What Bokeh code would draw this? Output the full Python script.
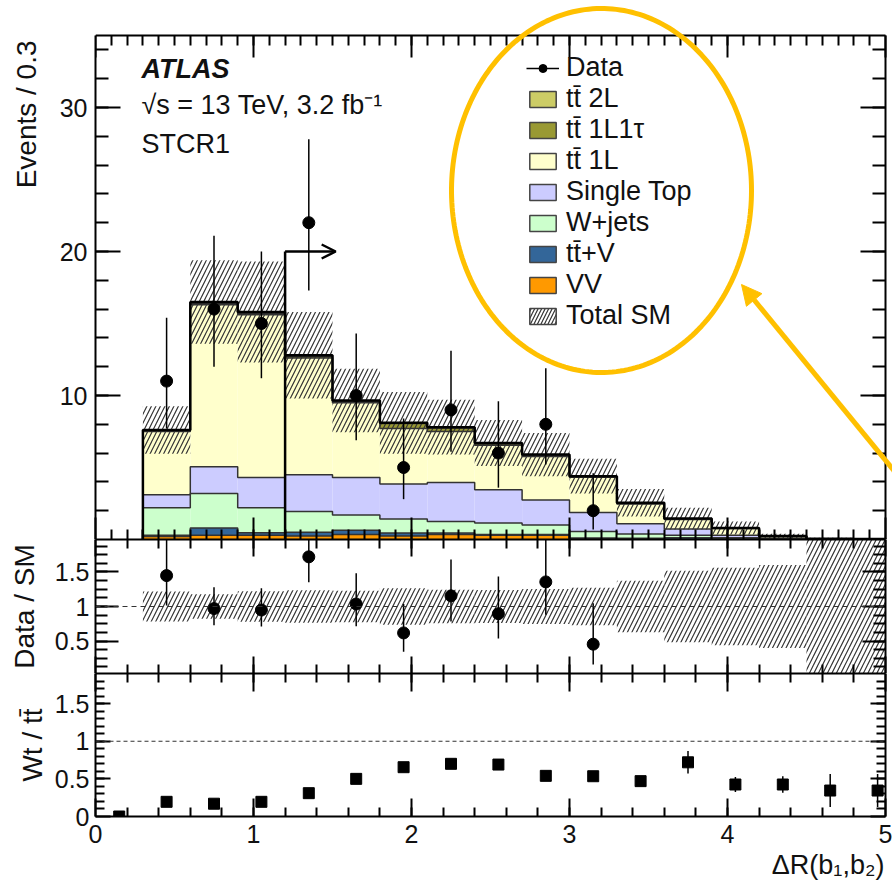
import numpy as np
from bokeh.plotting import figure
from bokeh.models import (Range1d, FixedTicker, LinearAxis, Label, Legend, LegendItem,
                          Arrow, OpenHead, NormalHead, PolyAnnotation, Span)
from bokeh.layouts import column
from bokeh.embed import file_html
from bokeh.resources import INLINE

# ---------------- data ----------------
bin_lo = [0.3, 0.6, 0.9, 1.2, 1.5, 1.8, 2.1, 2.4, 2.7, 3.0, 3.3, 3.6, 3.9, 4.2, 4.5, 4.8]
bin_hi = [0.6, 0.9, 1.2, 1.5, 1.8, 2.1, 2.4, 2.7, 3.0, 3.3, 3.6, 3.9, 4.2, 4.5, 4.8, 5.1]

vv         = [0.20, 0.30, 0.30, 0.25, 0.35, 0.25, 0.35, 0.30, 0.30, 0.05, 0.03, 0.02, 0.01, 0.00, 0.00, 0.00]
ttv        = [0.10, 0.50, 0.17, 0.25, 0.30, 0.20, 0.10, 0.05, 0.05, 0.05, 0.05, 0.10, 0.02, 0.00, 0.00, 0.00]
wjets      = [1.90, 2.40, 1.73, 1.45, 1.05, 0.98, 0.80, 0.80, 0.65, 0.45, 0.30, 0.18, 0.09, 0.03, 0.01, 0.00]
single_top = [0.90, 1.85, 2.10, 2.55, 2.60, 2.42, 2.70, 2.30, 1.75, 1.32, 0.72, 0.43, 0.18, 0.05, 0.01, 0.01]
tt_1l      = [4.40, 11.25, 11.30, 8.10, 5.20, 3.85, 3.55, 3.10, 3.02, 2.45, 1.36, 0.66, 0.46, 0.13, 0.02, 0.02]
tt_1l1tau  = [0.05, 0.10, 0.10, 0.10, 0.10, 0.35, 0.25, 0.10, 0.08, 0.05, 0.04, 0.03, 0.02, 0.02, 0.01, 0.00]
tt_2l      = [0.05, 0.10, 0.10, 0.10, 0.05, 0.05, 0.05, 0.05, 0.05, 0.03, 0.05, 0.03, 0.02, 0.02, 0.01, 0.01]
total_err  = [1.65, 2.90, 3.50, 3.00, 2.20, 2.15, 1.90, 1.60, 1.50, 1.20, 0.95, 0.75, 0.45, 0.15, 0.06, 0.04]

data_x      = [0.45, 0.75, 1.05, 1.35, 1.65, 1.95, 2.25, 2.55, 2.85, 3.15]
data_n      = [11, 16, 15, 22, 10, 5, 9, 6, 8, 2]
data_err_up = [4.4, 5.1, 5.0, 5.8, 4.3, 3.4, 4.1, 3.6, 3.9, 2.6]
data_err_dn = [3.3, 4.0, 3.8, 4.7, 3.1, 2.2, 2.9, 2.4, 2.8, 1.3]

wt_x     = [0.15, 0.45, 0.75, 1.05, 1.35, 1.65, 1.95, 2.25, 2.55, 2.85, 3.15, 3.45, 3.75, 4.05, 4.35, 4.65, 4.95]
wt_ratio = [0.00, 0.195, 0.17, 0.195, 0.31, 0.50, 0.655, 0.70, 0.69, 0.54, 0.535, 0.47, 0.72, 0.425, 0.425, 0.345, 0.345]
wt_err   = [0.02, 0.02, 0.02, 0.02, 0.02, 0.02, 0.02, 0.02, 0.02, 0.02, 0.03, 0.04, 0.15, 0.10, 0.11, 0.22, 0.22]

x_ticks = [0, 1, 2, 3, 4, 5]
main_y_ticks = [10, 20, 30]
ratio_y_ticks = [0.5, 1, 1.5]
wt_y_ticks = [0, 0.5, 1, 1.5]

cut_x, cut_y, cut_arrow_end = 1.2, 20, 1.52

layer_names = ["VV", "tt\u0304+V", "W+jets", "Single Top", "tt\u0304 1L", "tt\u0304 1L1\u03c4", "tt\u0304 2L"]
layer_colors = ["#FF9900", "#336699", "#CCFFCC", "#CCCCFF", "#FFFFCC", "#999933", "#CCCC66"]

# ---------------- layout constants ----------------
FONT = "Liberation Sans"
FRAME_L, FRAME_W, BORDER_R = 95, 790, 7
MAIN_TOP, MAIN_H = 35, 504          # visible histogram box
R1_H, R2_H, BOTTOM = 134, 143, 70
X_LO, X_HI = 0.0, 5.0
X_EXT = X_HI + BORDER_R * (X_HI - X_LO) / FRAME_W   # main frame reaches the page's right edge
MY_LO, MY_HI = 0.0, 35.0
MY_EXT = MY_HI * (MAIN_TOP + MAIN_H) / MAIN_H       # main frame reaches the page top
R1_LO, R1_HI = 0.03, 1.97
R2_LO, R2_HI = 0.0, 1.9
GOLD = "#FFC000"
NB = "\u00a0"


def px_x(px):
    return X_LO + (px - FRAME_L) * (X_HI - X_LO) / FRAME_W


def py_main(py):
    return MY_EXT - py * MY_EXT / (MAIN_TOP + MAIN_H)


def style_axis(ax, major_in, minor_in, labels=False, size="25px", standoff=8):
    ax.axis_line_width = 2
    ax.axis_line_color = "black"
    ax.major_tick_in = major_in
    ax.major_tick_out = 0
    ax.minor_tick_in = minor_in
    ax.minor_tick_out = 0
    ax.major_tick_line_width = 2
    ax.minor_tick_line_width = 2
    ax.major_tick_line_color = "black"
    ax.minor_tick_line_color = "black"
    if labels:
        ax.major_label_text_font = FONT
        ax.major_label_text_font_size = size
        ax.major_label_text_color = "#111111"
        ax.major_label_standoff = standoff
    else:
        ax.major_label_text_font_size = "1px"
        ax.major_label_text_color = None
        ax.major_label_standoff = 0


def set_title(ax, text, standoff, lead_pad=0, size="28px"):
    ax.axis_label_text_font = FONT
    ax.axis_label_text_font_size = size
    ax.axis_label_text_font_style = "normal"
    ax.axis_label_text_color = "#111111"
    ax.axis_label_standoff = standoff
    ax.axis_label = NB * lead_pad + text


def make_fig(y_lo, y_hi, frame_h, bottom, xtick_minor, ytick_major, ytick_minor,
             xlen, ylen, xlabels=False, ystandoff=8, y_bounds=None, top_fixed=None,
             extend_right=False):
    x_hi = X_EXT if extend_right else X_HI
    p = figure(frame_width=FRAME_W + (BORDER_R if extend_right else 0), frame_height=frame_h,
               x_range=Range1d(X_LO, x_hi), y_range=Range1d(y_lo, y_hi),
               x_axis_type=None, y_axis_type=None,
               min_border_left=FRAME_L, min_border_right=0 if extend_right else BORDER_R,
               min_border_top=0, min_border_bottom=bottom,
               output_backend="svg", toolbar_location=None)
    p.outline_line_color = None
    p.background_fill_color = "white"
    p.border_fill_color = "white"
    xt = FixedTicker(ticks=x_ticks, minor_ticks=xtick_minor)
    yt = FixedTicker(ticks=ytick_major, minor_ticks=ytick_minor)
    axes = {}
    for place in ("below", "above"):
        ax = LinearAxis(ticker=xt)
        if extend_right:
            ax.bounds = (X_LO, X_HI)
        if place == "above" and top_fixed is not None:
            ax.fixed_location = top_fixed
        lab = xlabels if place == "below" else False
        style_axis(ax, xlen[0], xlen[1], labels=lab, standoff=8)
        p.add_layout(ax, place)
        axes[place] = ax
    for place, lab in (("left", True), ("right", False)):
        ax = LinearAxis(ticker=yt)
        if y_bounds is not None:
            ax.bounds = y_bounds
        if place == "right" and extend_right:
            ax.fixed_location = X_HI
        style_axis(ax, ylen[0], ylen[1], labels=lab, standoff=ystandoff)
        p.add_layout(ax, place)
        axes[place] = ax
    return p, axes


def outline(lo, hi, vals):
    xs, ys = [lo[0]], [0.0]
    for a, b, v in zip(lo, hi, vals):
        xs += [a, b]
        ys += [v, v]
    xs.append(hi[-1])
    ys.append(0.0)
    return xs, ys


lo = np.array(bin_lo)
hi = np.array(bin_hi)
hi_main = np.minimum(hi, X_HI)
layers = [vv, ttv, wjets, single_top, tt_1l, tt_1l1tau, tt_2l]
total = np.sum(np.array(layers), axis=0)
err = np.array(total_err)

# ---------------- main panel ----------------
p, ax_main = make_fig(MY_LO, MY_EXT, MAIN_TOP + MAIN_H, 0,
                      list(np.round(np.arange(0.1, 5.0, 0.1), 2)),
                      main_y_ticks, list(range(2, 35, 2)), (22, 10), (25, 13),
                      y_bounds=(MY_LO, MY_HI), top_fixed=MY_HI, extend_right=True)
set_title(ax_main["left"], "Events / 0.3", 15, lead_pad=40)

base = np.zeros(len(lo))
tops = []
for vals, col in zip(layers, layer_colors):
    top = base + np.array(vals)
    p.quad(left=lo, right=hi_main, bottom=base, top=top, fill_color=col, line_color=None)
    tops.append(top)
    base = top
for top in tops[:-1]:
    xs, ys = outline(bin_lo, list(hi_main), top)
    p.line(xs, ys, line_color="#333333", line_width=1.5)

p.quad(left=lo, right=hi_main, bottom=total - err, top=total + err, fill_color=None,
       hatch_pattern="/", hatch_color="#333333", hatch_weight=1.2, hatch_scale=9,
       line_color=None)
xs, ys = outline(bin_lo, list(hi_main), total)
p.line(xs, ys, line_color="black", line_width=2.5)

# cut arrow
p.segment(x0=[cut_x], y0=[0], x1=[cut_x], y1=[cut_y], line_color="black", line_width=2.5)
p.add_layout(Arrow(end=OpenHead(size=14, line_width=2.5, line_color="black"),
                   x_start=cut_x, y_start=cut_y, x_end=cut_arrow_end, y_end=cut_y,
                   line_color="black", line_width=2.5))

dn = np.array(data_n, dtype=float)
seg_r = p.segment(x0=data_x, y0=dn - np.array(data_err_dn), x1=data_x, y1=dn + np.array(data_err_up),
                  line_color="black", line_width=1.5)
dot_r = p.scatter(data_x, dn, size=12, marker="circle", fill_color="black", line_color="black")

# legend (dummy renderers for boxed entries)
nan = [np.nan]
items = [LegendItem(label="Data", renderers=[seg_r, dot_r])]
for name, col in reversed(list(zip(layer_names, layer_colors))):
    r = p.quad(left=nan, right=nan, bottom=nan, top=nan, fill_color=col,
               line_color="#444444", line_width=1.5)
    items.append(LegendItem(label=name, renderers=[r]))
r_tot = p.quad(left=nan, right=nan, bottom=nan, top=nan, fill_color="white",
               hatch_pattern="/", hatch_color="#333333", hatch_weight=1.2, hatch_scale=7,
               line_color="#444444", line_width=1.5)
items.append(LegendItem(label="Total SM", renderers=[r_tot]))
legend = Legend(items=items, location=(431, 208), padding=0, margin=0, spacing=0,
                glyph_width=33, glyph_height=20, label_height=20, label_standoff=7,
                label_text_font=FONT, label_text_font_size="27px", label_text_color="#111111",
                border_line_color=None, background_fill_alpha=0)
p.add_layout(legend)

# texts
p.add_layout(Label(x=px_x(141), y=py_main(83), text="ATLAS", text_font=FONT,
                   text_font_size="27px", text_font_style="bold italic", text_color="#111111"))
p.add_layout(Label(x=px_x(141), y=py_main(119), text="\u221as = 13 TeV, 3.2 fb\u207b\u00b9",
                   text_font=FONT, text_font_size="27px", text_color="#111111"))
p.add_layout(Label(x=px_x(141), y=py_main(158), text="STCR1",
                   text_font=FONT, text_font_size="27px", text_color="#111111"))

# gold ellipse + arrow annotation
t = np.linspace(0, 2 * np.pi, 240)
ell_x = [px_x(v) for v in 601 + 150 * np.cos(t)]
ell_y = [py_main(v) for v in 190 + 182 * np.sin(t)]
p.add_layout(PolyAnnotation(xs=ell_x, ys=ell_y, fill_color=None, fill_alpha=0,
                            line_color=GOLD, line_alpha=1.0, line_width=5))
p.add_layout(Arrow(end=NormalHead(size=20, fill_color=GOLD, line_color=GOLD),
                   x_start=px_x(895), y_start=py_main(472), x_end=px_x(741), y_end=py_main(284),
                   line_color=GOLD, line_width=5))

# ---------------- ratio 1: Data / SM ----------------
p1, ax1 = make_fig(R1_LO, R1_HI, R1_H, 0,
                   list(np.round(np.arange(0.2, 5.0, 0.2), 2)),
                   ratio_y_ticks, list(np.round(np.arange(0.125, 2.0, 0.125), 3)), (17, 9), (23, 12),
                   ystandoff=6)
set_title(ax1["left"], "Data / SM", 12)
rel = err / total
p1.quad(left=lo, right=hi, bottom=1 - rel, top=1 + rel, fill_color=None,
        hatch_pattern="/", hatch_color="#333333", hatch_weight=1.2, hatch_scale=9, line_color=None)
p1.add_layout(Span(location=1, dimension="width", line_color="#333333", line_width=1.2,
                   line_dash="5 4"))
tot_at = np.array([total[list(np.round(lo, 2)).index(round(x - 0.15, 2))] for x in data_x])
p1.segment(x0=data_x, y0=(dn - np.array(data_err_dn)) / tot_at, x1=data_x,
           y1=(dn + np.array(data_err_up)) / tot_at, line_color="black", line_width=1.5)
p1.scatter(data_x, dn / tot_at, size=12, marker="circle", fill_color="black", line_color="black")

# ---------------- ratio 2: Wt / tt ----------------
p2, ax2 = make_fig(R2_LO, R2_HI, R2_H, BOTTOM,
                   list(np.round(np.arange(0.2, 5.0, 0.2), 2)),
                   wt_y_ticks, list(np.round(np.arange(0.1, 1.9, 0.1), 2)), (18, 9), (15, 9),
                   xlabels=True, ystandoff=6)
set_title(ax2["left"], "Wt / tt\u0304", 4)
set_title(ax2["below"], "\u0394R(b\u2081,b\u2082)", 4, lead_pad=90, size="27px")
p2.add_layout(Span(location=1, dimension="width", line_color="#333333", line_width=1.2,
                   line_dash="4 3"))
wr = np.array(wt_ratio)
we = np.array(wt_err)
p2.segment(x0=wt_x, y0=wr - we, x1=wt_x, y1=wr + we, line_color="black", line_width=1.5)
p2.scatter(wt_x, wr, size=11, marker="square", fill_color="black", line_color="black")

layout = column(p, p1, p2, spacing=0)
open("out.html", "w").write(file_html(layout, INLINE))
